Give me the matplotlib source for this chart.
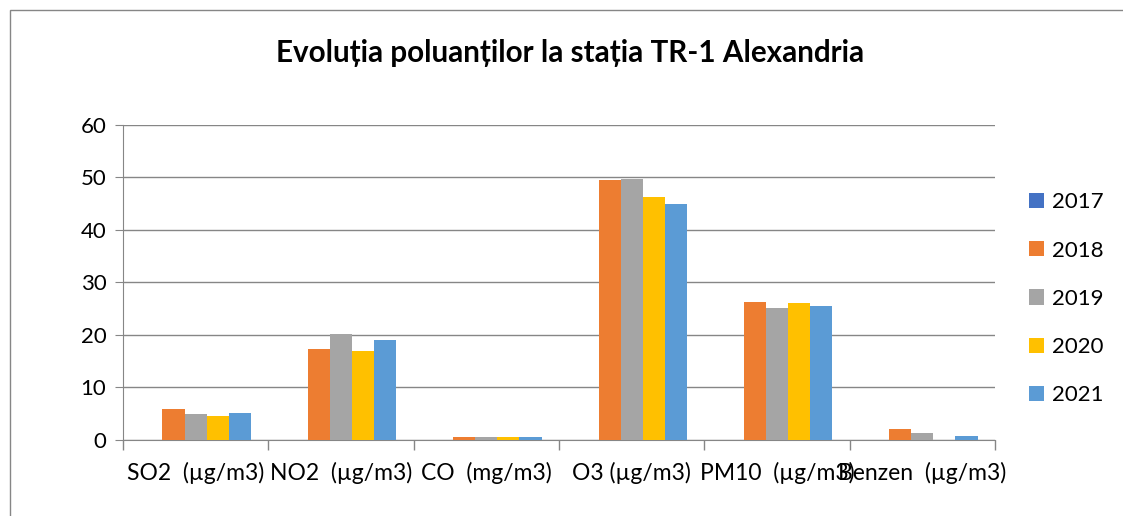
import matplotlib.pyplot as plt
import numpy as np
from matplotlib.patches import Rectangle

categories = ['SO2  (µg/m3)', 'NO2  (µg/m3)', 'CO  (mg/m3)', 'O3 (µg/m3)', 'PM10  (µg/m3)', 'Benzen  (µg/m3)']
years = ['2017', '2018', '2019', '2020', '2021']
v2017 = [0, 0, 0, 0, 0, 0]
v2018 = [5.9, 17.4, 0.5, 49.5, 26.3, 2.0]
v2019 = [4.9, 20.1, 0.6, 49.7, 25.2, 1.35]
v2020 = [4.5, 17.0, 0.6, 46.2, 26.0, 0]
v2021 = [5.2, 19.0, 0.5, 44.9, 25.6, 0.75]
colors = ['#4472C4', '#ED7D31', '#A5A5A5', '#FFC000', '#5B9BD5']

plt.rcParams['font.family'] = ['Lato', 'DejaVu Sans']

fig = plt.figure(figsize=(11.23, 5.16), dpi=100)
ax = fig.add_axes([0.1095, 0.1473, 0.7765, 0.6105])

series = [v2017, v2018, v2019, v2020, v2021]
x = np.arange(len(categories))
w = 0.152
for i, (vals, c, yr) in enumerate(zip(series, colors, years)):
    ax.bar(x + (i - 2) * w, vals, width=w, color=c, label=yr, zorder=3)

ax.set_xlim(-0.5, len(categories) - 0.5)
ax.set_ylim(0, 60)
ax.set_yticks(range(0, 61, 10))
ax.grid(axis='y', color='#868686', lw=1, zorder=0)
ax.set_xticks(x)
ax.set_xticklabels(categories, fontsize=16.5)
ax.tick_params(axis='x', length=0, pad=16)
ax.set_xticks(np.arange(-0.5, len(categories)), minor=True)
ax.tick_params(axis='x', which='minor', length=7, color='#868686', width=1)
ax.tick_params(axis='y', labelsize=16, length=6, color='#868686', pad=6)
for s in ['top', 'right']:
    ax.spines[s].set_visible(False)
for s in ['left', 'bottom']:
    ax.spines[s].set_color('#868686')

fig.text(0.508, 0.898, 'Evoluția poluanților la stația TR-1 Alexandria',
         ha='center', va='center', fontsize=21.3, fontweight='bold')

fig.legend(loc='center left', bbox_to_anchor=(0.916, 0.421), frameon=False,
           fontsize=16, handlelength=0.67, handleheight=0.67, labelspacing=1.27,
           handletextpad=0.4, borderpad=0, borderaxespad=0)

fig.patches.append(Rectangle((0.009, -0.1), 1.2, 1.08, transform=fig.transFigure,
                             fill=False, edgecolor='#868686', lw=1))

fig.savefig('out.png', dpi=100)
